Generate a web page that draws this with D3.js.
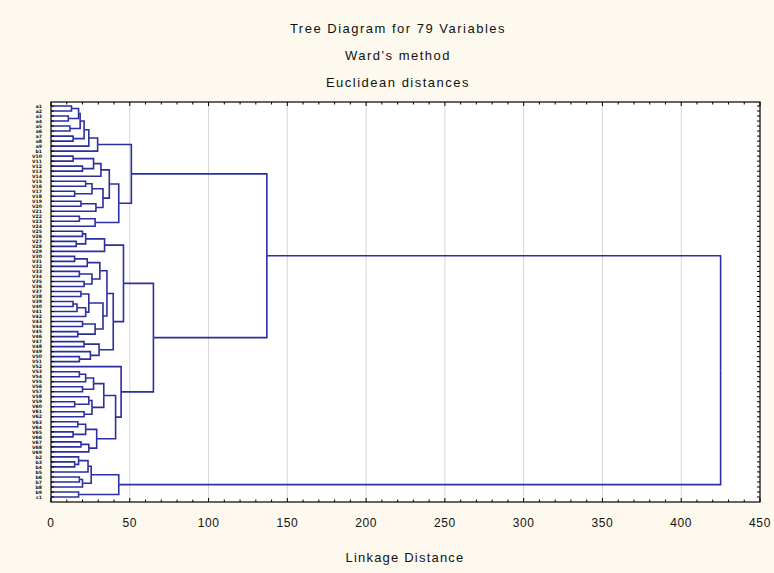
<!DOCTYPE html>
<html>
<head>
<meta charset="utf-8">
<script src="https://cdn.jsdelivr.net/npm/d3@7"></script>
<style>
  html, body { margin: 0; padding: 0; background: #FDF9EE; }
  svg { display: block; }
</style>
</head>
<body>
<svg id="chart" width="774" height="573"></svg>
<script>
// ---- data ----
const titleLines = ["Tree Diagram for 79 Variables", "Ward's method", "Euclidean distances"];
const xAxisTitle = "Linkage Distance";
const xTicks = [0, 50, 100, 150, 200, 250, 300, 350, 400, 450];

// leaf labels in dendrogram order (top to bottom)
const leafLabels = [
  "a1","a2","a3","a4","a5","a6","a7","a8","a9","b1",
  "V10","V11","V12","V13","V14","V15","V16","V17","V18","V19",
  "V20","V21","V22","V23","V24","V25","V26","V27","V28","V29",
  "V30","V31","V32","V33","V34","V35","V36","V37","V38","V39",
  "V40","V41","V42","V43","V44","V45","V46","V47","V48","V49",
  "V50","V51","V52","V53","V54","V55","V56","V57","V58","V59",
  "V60","V61","V62","V63","V64","V65","V66","V67","V68","V69",
  "b2","b3","b4","b5","b6","b7","b8","b9","c1"
];

// linkage distance at which each pair of neighbouring leaves is joined
const mergeHeights = [
  13, 17.5, 11, 18.5, 12, 21, 14, 24, 29.6, 51,
  14, 27, 20, 31.7, 37, 22, 26, 15, 33, 19,
  28.5, 43, 18, 28, 137, 20, 22, 16, 34, 46,
  15, 23, 31, 18, 26, 21, 35.5, 19, 24, 14,
  16.5, 22, 33, 20, 28, 17, 39.5, 21, 30.5, 25,
  18, 65, 44.5, 18, 22, 27, 20, 33.5, 24, 15,
  26, 21, 41, 17, 22, 14, 29, 19, 24, 425,
  17.5, 15, 23.5, 25.5, 18, 20, 43, 17.5
];

// ---- build tree ----
function build(a, b) {
  if (a === b) return { name: leafLabels[a], idx: a, height: 0 };
  let k = a;
  for (let i = a; i < b; i++) if (mergeHeights[i] > mergeHeights[k]) k = i;
  return { height: mergeHeights[k], children: [build(a, k), build(k + 1, b)] };
}
const root = d3.hierarchy(build(0, leafLabels.length - 1));

// ---- layout ----
const svg = d3.select("#chart");
const W = 774, H = 573;
const plot = { left: 51, right: 760, top: 102, bottom: 502 };

const x = d3.scaleLinear().domain([0, 450]).range([plot.left, plot.right]);
const yLeaf = d3.scalePoint().domain(d3.range(leafLabels.length)).range([106, 497]);

root.eachAfter(n => {
  n.px = x(n.data.height);
  n.py = n.children ? d3.mean(n.children, c => c.py) : yLeaf(n.data.idx);
});

svg.append("rect").attr("width", W).attr("height", H).attr("fill", "#FDF9EE");

// plot area
svg.append("rect")
  .attr("x", plot.left).attr("y", plot.top)
  .attr("width", plot.right - plot.left).attr("height", plot.bottom - plot.top)
  .attr("fill", "#ffffff");

// gridlines
svg.append("g").selectAll("line")
  .data(xTicks.filter(t => t > 0 && t < 450))
  .join("line")
  .attr("x1", d => x(d)).attr("x2", d => x(d))
  .attr("y1", plot.top).attr("y2", plot.bottom)
  .attr("stroke", "#D6D6D6").attr("stroke-width", 1);

// tree links: from each node horizontally to its parent's height, then vertically to the parent
const lineColor = "#2C2F9E";
svg.append("g")
  .attr("fill", "none").attr("stroke", lineColor).attr("stroke-width", 1.6)
  .selectAll("path")
  .data(root.descendants().filter(n => n.parent))
  .join("path")
  .attr("d", n => `M${n.children ? n.px : plot.left},${n.py}H${n.parent.px}V${n.parent.py}`);

// frame
svg.append("rect")
  .attr("x", plot.left).attr("y", plot.top)
  .attr("width", plot.right - plot.left).attr("height", plot.bottom - plot.top)
  .attr("fill", "none").attr("stroke", "#000").attr("stroke-width", 1.2);

// minor/major ticks on top and bottom (inside)
const tickVals = d3.range(0, 451, 10);
const tk = svg.append("g").attr("stroke", "#000").attr("stroke-width", 1);
tk.selectAll("line.tt").data(tickVals).join("line").attr("class", "tt")
  .attr("x1", d => x(d)).attr("x2", d => x(d))
  .attr("y1", plot.top).attr("y2", d => plot.top + (d % 50 === 0 ? 4 : 2.5));
tk.selectAll("line.bt").data(tickVals).join("line").attr("class", "bt")
  .attr("x1", d => x(d)).attr("x2", d => x(d))
  .attr("y1", plot.bottom).attr("y2", d => plot.bottom - (d % 50 === 0 ? 4 : 2.5));
// leaf ticks on right and left
tk.selectAll("line.rt").data(d3.range(leafLabels.length)).join("line").attr("class", "rt")
  .attr("x1", plot.right - 3).attr("x2", plot.right)
  .attr("y1", d => yLeaf(d)).attr("y2", d => yLeaf(d));
tk.selectAll("line.lt").data(d3.range(leafLabels.length)).join("line").attr("class", "lt")
  .attr("x1", plot.left).attr("x2", plot.left + 3)
  .attr("y1", d => yLeaf(d)).attr("y2", d => yLeaf(d));

// x tick labels
svg.append("g")
  .attr("font-family", "'Liberation Sans', Arial, sans-serif")
  .attr("font-size", 12).attr("fill", "#111").attr("text-anchor", "middle")
  .attr("letter-spacing", "0.6px")
  .selectAll("text").data(xTicks).join("text")
  .attr("x", d => x(d)).attr("y", 527)
  .text(d => d);

// leaf labels
svg.append("g")
  .attr("font-family", "'DejaVu Sans', sans-serif")
  .attr("font-size", 4.6).attr("font-weight", "bold").attr("fill", "#111")
  .attr("text-anchor", "end")
  .selectAll("text").data(root.leaves()).join("text")
  .attr("x", 42).attr("y", d => d.py + 1.7)
  .text(d => d.data.name);

// titles
svg.append("g")
  .attr("font-family", "'Liberation Sans', Arial, sans-serif")
  .attr("font-size", 13).attr("fill", "#111").attr("text-anchor", "middle")
  .attr("letter-spacing", "1.5px")
  .selectAll("text").data(titleLines).join("text")
  .attr("x", 398).attr("y", (d, i) => 33 + i * 27)
  .text(d => d);

svg.append("text")
  .attr("font-family", "'Liberation Sans', Arial, sans-serif")
  .attr("font-size", 13).attr("fill", "#111").attr("text-anchor", "middle")
  .attr("letter-spacing", "1.2px")
  .attr("x", 405).attr("y", 562)
  .text(xAxisTitle);
</script>
</body>
</html>
